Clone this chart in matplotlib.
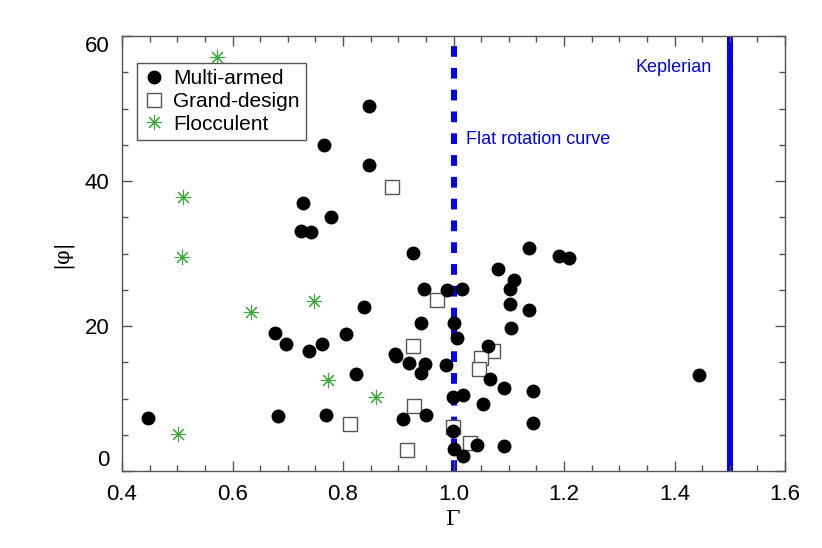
import matplotlib
matplotlib.use("Agg")
import matplotlib.pyplot as plt
from matplotlib.ticker import MultipleLocator

# Multi-armed (filled circles)
multi_x = [0.8476, 0.8476, 0.7656, 0.727, 0.7777, 0.724, 0.7415, 0.927, 1.1366, 1.1915, 1.209,
           1.0805, 1.11, 1.1017, 0.947, 0.9877, 1.0154, 1.1017, 1.1366, 0.838, 0.941, 1.0003,
           1.1035, 1.0058, 0.6764, 0.6968, 0.7385, 0.7614, 0.805, 0.894, 0.8954, 0.919, 0.949,
           0.9859, 0.9406, 0.8235, 1.062, 1.066, 1.0914, 1.1433, 0.9997, 1.0178, 1.0528, 0.950,
           0.909, 1.1433, 0.9997, 1.043, 1.092, 1.0, 1.0166, 0.4465, 0.6818, 0.7698, 1.445]
multi_y = [50.4, 42.2, 44.97, 37.0, 35.0, 33.06, 32.97, 30.1, 30.7, 29.66, 29.33,
           27.9, 26.3, 25.06, 25.15, 24.97, 25.15, 23.03, 22.25, 22.6, 20.37, 20.37,
           19.75, 18.4, 19.08, 17.56, 16.55, 17.47, 18.85, 16.2, 15.9, 14.85, 14.76,
           14.67, 13.47, 13.4, 17.24, 12.7, 11.4, 11.03, 10.25, 10.53, 9.24, 7.72,
           7.13, 6.67, 5.56, 3.59, 3.5, 2.99, 2.07, 7.26, 7.54, 7.72, 13.3]

# Grand-design (open squares)
grand_x = [0.889, 0.9696, 0.926, 1.071, 1.049, 1.0456, 0.929, 0.812, 0.9997, 1.030, 0.9164]
grand_y = [39.2, 23.6, 17.2, 16.6, 15.6, 14.1, 8.97, 6.43, 6.1, 3.86, 2.9]

# Flocculent (asterisks)
floc_x = [0.5725, 0.5098, 0.509, 0.7475, 0.634, 0.7728, 0.8597, 0.5008]
floc_y = [57.06, 37.8, 29.56, 23.5, 22.0, 12.5, 10.2, 5.06]

flat_gamma = 1.0
kepler_gamma = 1.5

plt.rcParams['font.family'] = ['Liberation Sans', 'DejaVu Sans']

fig = plt.figure(figsize=(8.22, 5.48), dpi=100)
ax = fig.add_axes([122/822, 1-471/548, 663/822, 435/548])

ax.axvline(flat_gamma, color='#0000ff', lw=4.3, linestyle=(0, (1.8, 1.85)), zorder=1)
ax.axvline(kepler_gamma, color='#0000ff', lw=4.3, zorder=1)

ax.plot(multi_x, multi_y, 'o', color='black', ms=9, mec='black', ls='none',
        label='Multi-armed', zorder=3)
ax.plot(grand_x, grand_y, 's', mfc='white', mec='#555555', mew=1.0, ms=9.5, ls='none',
        label='Grand-design', zorder=2)
ax.plot(floc_x, floc_y, marker=(8, 2, 0), color='#3aaa3a', mec='#3aaa3a', mew=0.8, ms=11,
        ls='none', label='Flocculent', zorder=3)

ax.text(1.0225, 45.7, 'Flat rotation curve', color='#0000ff', fontsize=13, va='center', ha='left')
ax.text(1.4675, 55.6, 'Keplerian', color='#0000ff', fontsize=13, va='center', ha='right')

ax.set_xlim(0.4, 1.6)
ax.set_ylim(0, 60)
ax.xaxis.set_major_locator(MultipleLocator(0.2))
ax.xaxis.set_minor_locator(MultipleLocator(0.05))
ax.yaxis.set_major_locator(MultipleLocator(20))
ax.yaxis.set_minor_locator(MultipleLocator(5))
ax.set_xticks(ax.get_xticks())
ax.set_xticklabels([f'{v:.1f}' for v in ax.get_xticks()])
ax.set_xlim(0.4, 1.6)
ax.tick_params(which='both', direction='in', top=True, right=True, color='#555555',
               width=1.0, labelsize=16, labelcolor='black')
ax.tick_params(which='major', length=7, pad=9)
ax.tick_params(which='minor', length=4)
for s in ax.spines.values():
    s.set_color('#555555')
    s.set_linewidth(1.0)

fig.canvas.draw()
for lab in ax.get_yticklabels():
    if lab.get_text() == '0':
        lab.set_va('bottom')
    elif lab.get_text() == '60':
        lab.set_va('top')

ax.set_xlabel('Γ', family=['DejaVu Serif'], fontsize=15, labelpad=4)
ax.set_ylabel('|φ|', family=['DejaVu Serif'], fontsize=15, labelpad=9)

leg = ax.legend(loc='upper left', bbox_to_anchor=((137-122)/663, (471-63)/435),
                borderaxespad=0, fancybox=False, fontsize=15, handlelength=1.0,
                handletextpad=0.45, labelspacing=0.18, borderpad=0.3, framealpha=1)
leg.get_frame().set_edgecolor('#555555')
leg.get_frame().set_linewidth(1.0)

fig.savefig('out.png', dpi=100)
